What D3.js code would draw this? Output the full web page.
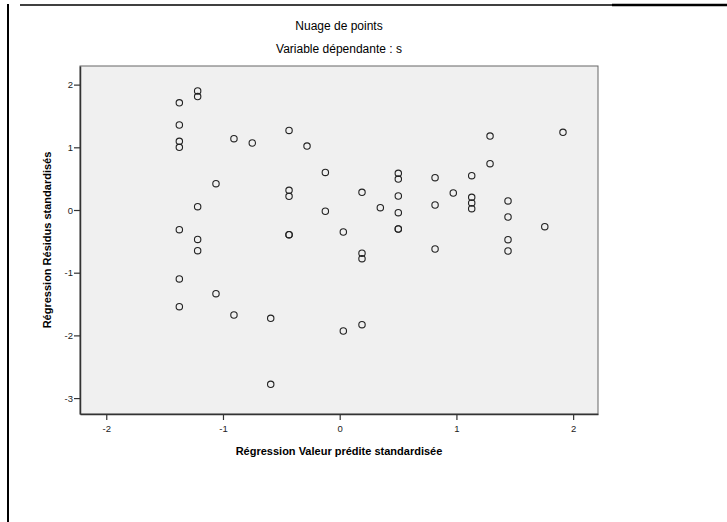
<!DOCTYPE html>
<html>
<head>
<meta charset="utf-8">
<script src="https://cdn.jsdelivr.net/npm/d3@7"></script>
<style>
  html, body { margin: 0; padding: 0; background: #fff; }
  svg { display: block; }
</style>
</head>
<body>
<svg id="chart" width="727" height="522"></svg>
<script>
// Standardised predicted values (x) and standardised residuals (y)
const predicted = [
  -1.374, -1.374, -1.374, -1.374, -1.374, -1.374, -1.374,
  -1.217, -1.217, -1.217, -1.217, -1.217,
  -1.06, -1.06,
  -0.906, -0.906,
  -0.749,
  -0.591, -0.591,
  -0.434, -0.434, -0.434, -0.434, -0.434,
  -0.28,
  -0.123, -0.123,
  0.031, 0.031,
  0.191, 0.191, 0.191, 0.191,
  0.348,
  0.502, 0.502, 0.502, 0.502, 0.502, 0.502,
  0.817, 0.817, 0.817,
  0.973,
  1.131, 1.131, 1.131, 1.131,
  1.288, 1.288,
  1.442, 1.442, 1.442, 1.442,
  1.757,
  1.913
];
const residuals = [
  1.71, 1.356, 1.095, 1.0, -0.314, -1.10, -1.542,
  1.90, 1.81, 0.053, -0.47, -0.649,
  0.42, -1.335,
  1.137, -1.675,
  1.069,
  -1.728, -2.78,
  1.27, 0.314, 0.218, -0.394, -0.394,
  1.02,
  0.60, -0.02,
  -0.351, -1.93,
  0.282, -0.69, -0.776, -1.829,
  0.037,
  0.585, 0.494, 0.223, -0.043, -0.303, -0.303,
  0.515, 0.08, -0.622,
  0.271,
  0.547, 0.202, 0.112, 0.021,
  1.18, 0.739,
  0.144, -0.112, -0.474, -0.654,
  -0.266,
  1.239
];
const xTicks = [-2, -1, 0, 1, 2];
const yTicks = [2, 1, 0, -1, -2, -3];

const title = "Nuage de points";
const subtitle = "Variable dépendante : s";
const xTitle = "Régression Valeur prédite standardisée";
const yTitle = "Régression Résidus standardisés";

const svg = d3.select("#chart");
const font = "'Liberation Sans', Arial, sans-serif";

// Page frame lines
svg.append("line").attr("x1", 8).attr("x2", 8).attr("y1", 4).attr("y2", 522)
  .attr("stroke", "#000").attr("stroke-width", 2);
svg.append("line").attr("x1", 20).attr("x2", 612).attr("y1", 5).attr("y2", 5)
  .attr("stroke", "#000").attr("stroke-width", 1.5);
svg.append("line").attr("x1", 612).attr("x2", 727).attr("y1", 5).attr("y2", 5)
  .attr("stroke", "#000").attr("stroke-width", 2.5);

// Plot area
const plot = { left: 80, top: 66, right: 598, bottom: 414 };
const x = d3.scaleLinear().domain([-2.225, 2.213]).range([plot.left, plot.right]);
const y = d3.scaleLinear().domain([-3.254, 2.297]).range([plot.bottom, plot.top]);

svg.append("rect")
  .attr("x", plot.left).attr("y", plot.top)
  .attr("width", plot.right - plot.left).attr("height", plot.bottom - plot.top)
  .attr("fill", "#f0f0f0").attr("stroke", "#666").attr("stroke-width", 1);

// Axes (plain hyphen for negative labels)
const xAxis = d3.axisBottom(x).tickValues(xTicks).tickSize(6).tickSizeOuter(0)
  .tickFormat(d => String(d));
const yAxis = d3.axisLeft(y).tickValues(yTicks).tickSize(6).tickSizeOuter(0)
  .tickFormat(d => String(d));

const gx = svg.append("g").attr("transform", `translate(0,${plot.bottom})`).call(xAxis);
const gy = svg.append("g").attr("transform", `translate(${plot.left},0)`).call(yAxis);
[gx, gy].forEach(g => {
  g.select(".domain").attr("stroke", "#333").attr("stroke-width", 1.5);
  g.selectAll(".tick line").attr("stroke", "#333").attr("stroke-width", 1.2);
  g.selectAll(".tick text").attr("fill", "#222")
    .style("font-family", font).style("font-size", "9.5px");
});
gx.selectAll(".tick text").attr("dy", "0.9em");
gy.selectAll(".tick text").attr("x", -7);

// Points
svg.append("g").selectAll("circle")
  .data(predicted.map((p, i) => [p, residuals[i]]))
  .join("circle")
  .attr("cx", d => x(d[0])).attr("cy", d => y(d[1]))
  .attr("r", 3.2)
  .attr("fill", "none").attr("stroke", "#222").attr("stroke-width", 1.1);

// Titles
const cx = (plot.left + plot.right) / 2;
svg.append("text").attr("x", cx).attr("y", 30).attr("text-anchor", "middle")
  .style("font-family", font).style("font-size", "12px").text(title);
svg.append("text").attr("x", cx).attr("y", 53).attr("text-anchor", "middle")
  .style("font-family", font).style("font-size", "12px").text(subtitle);
svg.append("text").attr("x", cx).attr("y", 455).attr("text-anchor", "middle")
  .style("font-family", font).style("font-size", "11px").style("font-weight", "bold")
  .text(xTitle);
svg.append("text")
  .attr("transform", `translate(51,${(plot.top + plot.bottom) / 2}) rotate(-90)`)
  .attr("text-anchor", "middle")
  .style("font-family", font).style("font-size", "11px").style("font-weight", "bold")
  .text(yTitle);
</script>
</body>
</html>
